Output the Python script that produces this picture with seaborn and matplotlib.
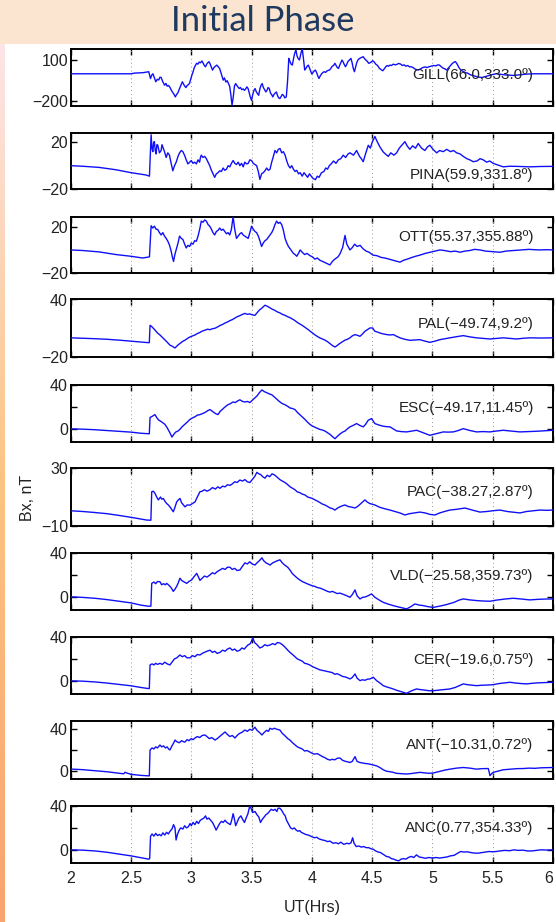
import numpy as np
import pandas as pd
import matplotlib
matplotlib.use("Agg")
import matplotlib.pyplot as plt
import seaborn as sns

# ---------------- data ----------------
STATIONS = ["GILL(66.0,333.0º)", "PINA(59.9,331.8º)", "OTT(55.37,355.88º)",
            "PAL(−49.74,9.2º)", "ESC(−49.17,11.45º)", "PAC(−38.27,2.87º)",
            "VLD(−25.58,359.73º)", "CER(−19.6,0.75º)", "ANT(−10.31,0.72º)",
            "ANC(0.77,354.33º)"]

GILL_t = [2.0, 2.3, 2.5, 2.53, 2.56, 2.6, 2.647, 2.662, 2.672, 2.682, 2.694, 2.706, 2.718, 2.73, 2.74,
          2.75, 2.765, 2.779, 2.79, 2.8, 2.812, 2.824, 2.835, 2.846, 2.857, 2.868, 2.878, 2.888, 2.897,
          2.906, 2.916, 2.926, 2.936, 2.946, 2.956, 2.966, 2.975, 2.985, 2.995, 3.005, 3.015, 3.025,
          3.034, 3.044, 3.055, 3.066, 3.077, 3.088, 3.1, 3.108, 3.118, 3.128, 3.137, 3.147, 3.157,
          3.166, 3.176, 3.188, 3.2, 3.212, 3.224, 3.235, 3.245, 3.255, 3.265, 3.275, 3.287, 3.298,
          3.309, 3.318, 3.328, 3.338, 3.348, 3.358, 3.368, 3.378, 3.387, 3.397, 3.408, 3.419, 3.43,
          3.441, 3.451, 3.461, 3.471, 3.481, 3.49, 3.5, 3.51, 3.52, 3.529, 3.539, 3.549, 3.559, 3.569,
          3.578, 3.588, 3.598, 3.608, 3.618, 3.628, 3.637, 3.647, 3.657, 3.666, 3.676, 3.686, 3.696,
          3.706, 3.716, 3.725, 3.735, 3.745, 3.755, 3.765, 3.775, 3.788, 3.798, 3.809, 3.818, 3.828,
          3.838, 3.848, 3.858, 3.868, 3.877, 3.887, 3.897, 3.907, 3.914, 3.921, 3.931, 3.941, 3.951,
          3.961, 3.971, 3.981, 3.99, 4.0, 4.01, 4.019, 4.029, 4.039, 4.049, 4.059, 4.07, 4.081, 4.092,
          4.103, 4.114, 4.125, 4.136, 4.147, 4.158, 4.169, 4.18, 4.191, 4.201, 4.211, 4.221, 4.23,
          4.24, 4.25, 4.26, 4.27, 4.279, 4.29, 4.3, 4.312, 4.324, 4.334, 4.343, 4.353, 4.363, 4.372,
          4.382, 4.393, 4.404, 4.415, 4.426, 4.437, 4.448, 4.46, 4.471, 4.482, 4.493, 4.504, 4.515,
          4.53, 4.545, 4.56, 4.574, 4.588, 4.6, 4.612, 4.624, 4.636, 4.647, 4.66, 4.675, 4.69, 4.705,
          4.72, 4.735, 4.75, 4.765, 4.78, 4.795, 4.81, 4.824, 4.84, 4.855, 4.868, 4.882, 4.9, 4.92,
          4.94, 4.955, 4.971, 4.99, 5.01, 5.03, 5.045, 5.059, 5.075, 5.09, 5.105, 5.118, 5.135, 5.15,
          5.165, 5.18, 5.191, 5.205, 5.22, 5.235, 5.25, 5.27, 5.29, 5.31, 5.324, 5.345, 5.37, 5.39,
          5.412, 5.44, 5.47, 5.5, 5.529, 5.56, 5.6, 5.64, 5.676, 5.72, 5.76, 5.8, 5.824, 5.9, 6.0]
GILL_v = [0, 0, 0, 5, 6, 8, 15, -34, -10, 0, -30, -58, -40, -45, -25,
          -27, -60, -83, -70, -90, -85, -100, -120, -135, -150, -168, -150, -140, -120,
          -100, -80, -58, -75, -90, -100, -85, -80, -70, -40, -10, 15, 45,
          60, 76, 70, 85, 80, 93, 75, 60, 51, 70, 80, 88, 70,
          50, 27, 45, 55, 63, 50, 39, 10, -20, -46, -30, -60, -50,
          -71, -90, -150, -229, -170, -90, -71, -85, -95, -107, -100, -115, -110,
          -120, -110, -95, -107, -140, -170, -193, -150, -120, -107, -130, -145, -156, -110,
          -85, -71, -100, -115, -132, -120, -100, -107, -140, -150, -168, -150, -140,
          -132, -160, -175, -180, -165, -150, -156, -175, -168, -60, 112, 90, 70,
          63, 110, 150, 173, 130, 110, 100, 140, 165, 180, 100, 27, 40,
          55, 63, 40, 20, -2, 10, 20, 27, 10, -15, -34, -15, 0, 10,
          15, 10, 20, 25, 27, 40, 55, 60, 76, 60, 45, 39, 60,
          80, 100, 85, 65, 51, 70, 90, 100, 112, 80, 40, 15, 50, 80,
          100, 110, 115, 120, 124, 110, 100, 90, 76, 80, 85, 95, 88,
          70, 60, 40, 30, 22, 35, 50, 60, 55, 63, 60, 70, 65, 68,
          75, 71, 60, 65, 55, 60, 50, 51, 45, 35, 30, 27, 35, 45,
          50, 45, 51, 55, 60, 58, 65, 63, 50, 40, 35, 27, 45, 60,
          75, 85, 88, 70, 45, 27, 20, 10, 5, -5, -10, -15, -22, -25,
          -27, -20, -12, -5, 0, -3, -8, -10, -12, -8, -4, -2, 0, 0, 0]

PINA_t = [2.0, 2.1, 2.236, 2.375, 2.5, 2.625, 2.653, 2.667, 2.674, 2.681, 2.688, 2.694, 2.701, 2.708,
          2.715, 2.722, 2.736, 2.75, 2.757, 2.764, 2.778, 2.792, 2.805, 2.819, 2.833, 2.847, 2.861,
          2.875, 2.89, 2.903, 2.917, 2.93, 2.944, 2.958, 2.972, 2.986, 3.0, 3.014, 3.028, 3.042, 3.056,
          3.069, 3.076, 3.083, 3.097, 3.111, 3.125, 3.139, 3.153, 3.167, 3.18, 3.194, 3.208, 3.222,
          3.236, 3.25, 3.264, 3.278, 3.292, 3.306, 3.32, 3.333, 3.347, 3.361, 3.375, 3.389, 3.403,
          3.417, 3.431, 3.444, 3.458, 3.472, 3.486, 3.5, 3.514, 3.528, 3.542, 3.556, 3.569, 3.583,
          3.597, 3.611, 3.625, 3.639, 3.653, 3.667, 3.681, 3.694, 3.708, 3.722, 3.736, 3.75, 3.764,
          3.778, 3.792, 3.806, 3.82, 3.833, 3.847, 3.861, 3.875, 3.889, 3.903, 3.92, 3.935, 3.95,
          3.965, 3.98, 3.995, 4.01, 4.03, 4.045, 4.06, 4.08, 4.1, 4.115, 4.13, 4.145, 4.16, 4.18, 4.2,
          4.22, 4.24, 4.26, 4.28, 4.3, 4.316, 4.345, 4.371, 4.395, 4.41, 4.426, 4.445, 4.468, 4.485,
          4.5, 4.523, 4.54, 4.565, 4.59, 4.61, 4.634, 4.655, 4.68, 4.703, 4.725, 4.75, 4.772, 4.79,
          4.813, 4.835, 4.86, 4.882, 4.91, 4.938, 4.958, 4.979, 5.005, 5.035, 5.06, 5.09, 5.118, 5.15,
          5.175, 5.201, 5.23, 5.255, 5.285, 5.31, 5.338, 5.37, 5.395, 5.421, 5.45, 5.475, 5.504, 5.53,
          5.56, 5.587, 5.64, 5.698, 5.75, 5.808, 5.9, 6.0]
PINA_v = [0, -0.5, -1.5, -3.5, -6, -8, -9, 26.5, 15, 12, 20, 20.6, 13, 10,
          18, 17.6, 11, 13, 18, 16, 12, 7, 11, 9, 2, -4.4, 0,
          3, 8, 11, 13, 12, 9, 5, 1.5, 3, 4.4, 2, 3, 1.5, 5,
          3, 7, 9, 7, 8, 6, 3, 0, -4, -7, -10, -7, -6,
          -4.4, -5, -2, -4, -3, 0, -1, 2, 4.4, 2, 1, 3, 0,
          2, -1, 3, 1.5, 2, 5, 4.4, 2, 1, 0, -5, -11.8, -7,
          -6, -4.4, -2, -4, -3, 3, 8, 13, 11, 14, 14.7, 11, 12,
          9, 4, 0, -2, 0, -3, -5, -4, -7, -6, -9, -6, -8,
          -10, -7, -9, -11, -12, -9, -10, -6, -5, -2, -3, 0, 1.5, 4, 2,
          5, 6, 9, 7, 10, 11, 9, 13, 8, 6, 3.4, 10, 17.5, 15,
          20, 25, 21, 16, 12, 10, 8, 11, 9, 11, 15, 18, 20.6, 17,
          14, 17, 15, 19, 15, 13, 16, 17.5, 14, 11, 13, 12, 14, 12,
          13, 11, 10, 8, 6, 5, 3.4, 4, 6, 5, 3, 4, 2, 1,
          0, -1, -0.5, -0.6, -0.8, -1, -0.7, -0.6]

OTT_t = [2.0, 2.1, 2.236, 2.375, 2.5, 2.597, 2.653, 2.667, 2.68, 2.694, 2.708, 2.722, 2.736, 2.75, 2.764,
         2.778, 2.792, 2.806, 2.82, 2.833, 2.843, 2.853, 2.864, 2.875, 2.89, 2.903, 2.917, 2.931, 2.945,
         2.958, 2.972, 2.986, 3.0, 3.014, 3.028, 3.042, 3.056, 3.07, 3.083, 3.097, 3.111, 3.125, 3.139,
         3.153, 3.167, 3.18, 3.194, 3.208, 3.222, 3.236, 3.25, 3.264, 3.278, 3.292, 3.305, 3.319, 3.333,
         3.347, 3.36, 3.375, 3.389, 3.403, 3.417, 3.43, 3.444, 3.458, 3.472, 3.486, 3.5, 3.514, 3.528,
         3.542, 3.556, 3.569, 3.583, 3.597, 3.611, 3.625, 3.639, 3.653, 3.667, 3.681, 3.694, 3.708,
         3.722, 3.736, 3.75, 3.764, 3.778, 3.792, 3.806, 3.82, 3.833, 3.847, 3.861, 3.875, 3.889, 3.903,
         3.92, 3.94, 3.96, 3.985, 4.005, 4.025, 4.045, 4.067, 4.09, 4.11, 4.13, 4.15, 4.17, 4.19, 4.217,
         4.235, 4.255, 4.275, 4.29, 4.316, 4.335, 4.355, 4.375, 4.4, 4.425, 4.45, 4.475, 4.507, 4.54,
         4.575, 4.606, 4.64, 4.675, 4.705, 4.731, 4.76, 4.79, 4.83, 4.86, 4.896, 4.94, 4.98, 5.02, 5.062,
         5.1, 5.15, 5.19, 5.228, 5.27, 5.31, 5.35, 5.394, 5.44, 5.5, 5.56, 5.61, 5.67, 5.726, 5.8, 5.88,
         5.95, 6.0]
OTT_v = [0, -0.5, -1.7, -4, -5.5, -7, -6, 21, 19, 20.6, 18, 17.7, 15, 13, 15,
         12, 10, 7.5, 4, -1, -6, -10, -4, 0.3, 6, 12, 10, 9, 5,
         1.7, 4, 3, 6, 5, 8, 7.5, 12, 18, 25, 24, 26, 25, 22,
         20.6, 18, 15, 13, 16, 17, 19, 17, 18, 16, 14, 15, 13, 18,
         29, 18, 10, 12, 14, 15, 13, 12, 11, 10, 15, 20.6, 18, 16,
         15, 12, 8, 3, 6, 8, 9, 11, 13, 15, 18, 22, 25,
         23, 24, 22, 17, 10, 6, 3, 1, -1, -3, -4, -5.5, -3, 0,
         -2, -4, -3, -5, -6, -8, -7, -9, -10, -11, -12, -13, -10, -8, -6,
         -3, 2, 12.6, 5, 0, 2, 5, 3, 4, 1, -1, -2, -4.5, -5,
         -6.5, -7, -8, -9, -10, -10.6, -9, -8, -6.5, -5.5, -4.5, -3, -2, -1, 0,
         -0.5, -1.5, -1, -2, -1, -0.5, 0.5, 0, -1, -1.5, -2, -1, -0.5, 0, 0.5, 0,
         0.2, 0]

PAL_t = [2.0, 2.1, 2.2, 2.3, 2.4, 2.5, 2.58, 2.64, 2.652, 2.658, 2.67, 2.685, 2.7, 2.72, 2.74, 2.76,
         2.78, 2.8, 2.822, 2.845, 2.865, 2.885, 2.905, 2.925, 2.948, 2.97, 2.99, 3.01, 3.031, 3.05,
         3.07, 3.09, 3.114, 3.135, 3.155, 3.175, 3.197, 3.22, 3.24, 3.26, 3.28, 3.3, 3.321, 3.34,
         3.36, 3.38, 3.4, 3.425, 3.445, 3.465, 3.485, 3.505, 3.528, 3.545, 3.565, 3.585, 3.611, 3.63,
         3.65, 3.67, 3.694, 3.715, 3.735, 3.755, 3.777, 3.8, 3.82, 3.84, 3.86, 3.88, 3.9, 3.92, 3.943,
         3.965, 3.985, 4.005, 4.026, 4.045, 4.065, 4.085, 4.109, 4.13, 4.15, 4.17, 4.192, 4.21, 4.23,
         4.255, 4.275, 4.295, 4.316, 4.335, 4.358, 4.38, 4.399, 4.42, 4.44, 4.46, 4.482, 4.504, 4.523,
         4.545, 4.565, 4.595, 4.62, 4.65, 4.675, 4.705, 4.731, 4.77, 4.813, 4.855, 4.896, 4.94, 4.979,
         5.02, 5.062, 5.1, 5.145, 5.2, 5.256, 5.31, 5.366, 5.42, 5.477, 5.53, 5.587, 5.64, 5.698,
         5.75, 5.808, 5.9, 6.0]
PAL_v = [0, -0.4, -0.9, -1.5, -2.4, -3.5, -4.4, -5, -5, 13, 12, 10, 8, 5, 3, 0.5,
         -2, -4.5, -7.5, -9, -10.6, -8, -6, -4, -2.4, -0.5, 1, 2, 3, 4.5,
         5.5, 7, 8, 9, 8.5, 9.5, 10, 11.5, 13, 14, 15.5, 16.5, 18, 19,
         20.5, 22, 23, 24.5, 25.5, 24.5, 25, 24, 23.5, 26, 29, 31, 34, 33,
         31.5, 30, 28.6, 27, 26, 24.5, 23.5, 22, 21, 19.5, 18, 16, 14.5, 13, 11,
         9, 7, 5, 3, 1.5, 0, -1, -2.4, -4, -6, -8, -9.6, -8, -6,
         -4, -2.4, -1.5, 0, 2, 3.4, 2.5, 1.6, 4, 6.8, 8.5, 10.3, 10.3, 6.8,
         6, 5, 4, 3.4, 3, 3.4, 1.5, 0, -1.5, -2.6, -2.2, -1.9, -3.5, -4.7,
         -3.5, -1.9, -1, 0, 1.2, 2.3, 1, 0, -0.6, -1.2, -0.6, 0, -0.6, -1.2,
         -0.5, 0, -0.2, 0]

ESC_t = [2.0, 2.1, 2.2, 2.3, 2.4, 2.5, 2.58, 2.64, 2.652, 2.658, 2.67, 2.685, 2.699, 2.715, 2.73, 2.745,
         2.765, 2.782, 2.8, 2.82, 2.84, 2.855, 2.87, 2.89, 2.906, 2.925, 2.945, 2.965, 2.989, 3.01,
         3.03, 3.05, 3.072, 3.095, 3.115, 3.135, 3.155, 3.175, 3.2, 3.221, 3.24, 3.26, 3.28, 3.304,
         3.325, 3.345, 3.365, 3.385, 3.403, 3.425, 3.445, 3.465, 3.486, 3.505, 3.525, 3.545, 3.565,
         3.586, 3.605, 3.625, 3.645, 3.669, 3.69, 3.71, 3.73, 3.755, 3.777, 3.8, 3.82, 3.84, 3.86,
         3.88, 3.9, 3.92, 3.943, 3.965, 3.985, 4.005, 4.026, 4.045, 4.065, 4.085, 4.109, 4.13, 4.15,
         4.17, 4.192, 4.21, 4.23, 4.255, 4.275, 4.295, 4.316, 4.34, 4.371, 4.4, 4.426, 4.445, 4.468,
         4.495, 4.51, 4.523, 4.555, 4.592, 4.62, 4.648, 4.675, 4.703, 4.74, 4.786, 4.83, 4.869, 4.91,
         4.945, 4.979, 5.03, 5.09, 5.13, 5.173, 5.215, 5.256, 5.31, 5.366, 5.42, 5.477, 5.53, 5.587,
         5.65, 5.725, 5.8, 5.864, 5.93, 6.0]
ESC_v = [0, -0.3, -0.8, -1.5, -2.2, -3, -4, -4.5, -4.5, 10.4, 11, 12, 13, 10, 8, 7,
         5.5, 4, 1, -3, -7.5, -5, -3, -2, -0.4, 2, 4, 6, 8.6, 10,
         11, 12.5, 13, 14, 15, 16.5, 17.6, 16, 14, 13, 16, 18, 20, 22,
         23, 24.5, 24, 25.5, 26.5, 25, 24.5, 25, 24, 26, 28, 30, 33,
         35.5, 34, 33, 32, 31, 29, 27, 25, 23, 22, 20.5, 19, 18.5, 17.6,
         15, 13, 11, 8.6, 6, 4, 2.5, 1.4, 0.5, -0.5, -1, -2, -3.5, -5,
         -7, -9, -7, -5, -3, -2, 0, 1.8, 3, 4.8, 3, 1.8, 4, 7.9,
         9.4, 7, 4.8, 3.5, 2.4, 2, 1.8, 0, -1.9, -2.5, -2.8, -2, -1.3, -3,
         -4.5, -5.9, -4.5, -2.8, -3, -2.8, -1.5, 0.2, -1.5, -2.8, -2.5, -2.8, -2, -1.3,
         -2, -2.8, -2.5, -2.2, -1.8, -1.3]

PAC_t = [2.0, 2.1, 2.2, 2.3, 2.4, 2.5, 2.58, 2.63, 2.665, 2.672, 2.685, 2.699, 2.713, 2.727, 2.745,
         2.755, 2.768, 2.782, 2.796, 2.81, 2.823, 2.837, 2.851, 2.865, 2.879, 2.893, 2.906, 2.92,
         2.935, 2.948, 2.965, 2.989, 3.01, 3.031, 3.05, 3.072, 3.09, 3.11, 3.13, 3.155, 3.175, 3.2,
         3.22, 3.238, 3.26, 3.28, 3.3, 3.321, 3.34, 3.36, 3.38, 3.403, 3.425, 3.445, 3.465, 3.486,
         3.505, 3.525, 3.544, 3.56, 3.575, 3.593, 3.611, 3.63, 3.65, 3.67, 3.694, 3.715, 3.735,
         3.755, 3.777, 3.8, 3.82, 3.84, 3.86, 3.88, 3.9, 3.92, 3.943, 3.965, 3.985, 4.005, 4.026,
         4.05, 4.07, 4.09, 4.109, 4.13, 4.15, 4.17, 4.192, 4.215, 4.24, 4.255, 4.275, 4.3, 4.33,
         4.358, 4.38, 4.4, 4.42, 4.44, 4.46, 4.48, 4.5, 4.523, 4.56, 4.6, 4.648, 4.69, 4.73, 4.772,
         4.81, 4.85, 4.896, 4.94, 4.98, 5.02, 5.06, 5.1, 5.145, 5.2, 5.27, 5.33, 5.394, 5.45, 5.5,
         5.56, 5.62, 5.67, 5.726, 5.78, 5.84, 5.892, 5.95, 6.0]
PAC_v = [0.5, 0, -0.7, -1.5, -2.7, -4, -5.2, -5.9, -6, 13.6, 14, 12.5, 10, 8, 10,
         8.5, 9, 7, 5.5, 4.5, 3.2, 1.5, -0.2, 3, 6.6, 8, 9, 6,
         4.5, 3.2, 4.5, 4.4, 5.5, 6.6, 10, 13.6, 14, 15, 14, 15, 16.5, 15.5,
         17, 16, 17.5, 17, 18.5, 18, 19, 20.5, 20, 21.7, 21, 22, 20.5, 20,
         22, 24, 27, 26, 25.5, 24, 23, 25, 24, 26, 25, 23.5, 22,
         21, 20, 18.5, 17, 16, 15, 13.5, 13, 12, 11.4, 10, 9.5, 9, 8,
         7, 6, 5, 4.5, 3.5, 2.5, 2, 1, 2.5, 3.5, 4, 4.5, 3.5, 3,
         2.4, 3.5, 5, 6.5, 8, 6.5, 5.5, 5, 4.5, 3, 2, 1, 0, -1, -2.4,
         -1.5, -1, -0.4, -1, -2, -2.4, -1, 0, 1, 1.5, 2.4, 1, -0.4, 0, 0.5,
         1, 0, -0.5, -1, 0, 0.5, 1, 0.8, 1]

VLD_t = [2.0, 2.1, 2.2, 2.3, 2.4, 2.5, 2.58, 2.64, 2.665, 2.672, 2.69, 2.705, 2.72, 2.74, 2.754, 2.77,
         2.785, 2.796, 2.81, 2.823, 2.835, 2.851, 2.865, 2.879, 2.893, 2.906, 2.92, 2.934, 2.95,
         2.962, 2.98, 3.003, 3.02, 3.035, 3.045, 3.06, 3.072, 3.09, 3.11, 3.13, 3.155, 3.175, 3.195,
         3.215, 3.238, 3.26, 3.28, 3.3, 3.321, 3.34, 3.36, 3.38, 3.403, 3.425, 3.445, 3.465, 3.485,
         3.505, 3.528, 3.545, 3.565, 3.586, 3.6, 3.62, 3.638, 3.653, 3.675, 3.695, 3.715, 3.735,
         3.755, 3.775, 3.8, 3.818, 3.84, 3.86, 3.88, 3.9, 3.92, 3.94, 3.96, 3.983, 4.005, 4.025,
         4.045, 4.067, 4.09, 4.11, 4.13, 4.15, 4.17, 4.19, 4.21, 4.233, 4.255, 4.28, 4.3, 4.316,
         4.335, 4.358, 4.375, 4.399, 4.42, 4.445, 4.468, 4.495, 4.523, 4.56, 4.592, 4.63, 4.675,
         4.71, 4.75, 4.786, 4.82, 4.855, 4.89, 4.924, 4.965, 5.007, 5.06, 5.118, 5.18, 5.22, 5.256,
         5.31, 5.366, 5.42, 5.477, 5.53, 5.6, 5.67, 5.74, 5.808, 5.87, 5.94, 6.0]
VLD_v = [0, -0.5, -1.3, -2.5, -4, -5.5, -7.5, -8.5, -8.5, 12.3, 13.5, 12, 14, 13.8, 11, 12,
         11, 12.3, 11, 9.6, 8, 5, 7, 9.6, 13, 17, 15, 14, 13,
         12.3, 14, 15.4, 18, 20, 21.4, 18, 15, 17, 19, 18, 20, 22, 21,
         23, 24.5, 26, 25, 27, 27, 25, 26, 24, 24.5, 28, 31, 30, 32,
         30, 29, 31, 33, 35.6, 33, 31, 30, 29, 31, 32, 33, 33.8,
         31, 29, 27, 24.5, 21, 19, 17, 15.4, 14, 13, 12, 11, 10, 9.5,
         8.5, 8, 7, 6, 5, 4.3, 5, 4, 3, 3.4, 2.5, 1.5, 0.5, -0.4,
         2, 6.3, 1, -1.9, -0.5, 0, 1.1, 2.7, -0.4, -3, -5, -6.5, -8,
         -9, -10, -11, -9, -6.5, -7.5, -8, -9, -9.6, -8.5, -7, -5, -3, -1.9,
         -2.8, -3.4, -3.8, -4, -3, -2, -1.3, -2, -2.8, -2.3, -2, -1.9]

CER_t = [2.0, 2.1, 2.2, 2.3, 2.4, 2.5, 2.58, 2.64, 2.652, 2.658, 2.675, 2.69, 2.705, 2.72, 2.74, 2.76,
         2.78, 2.8, 2.823, 2.84, 2.86, 2.88, 2.906, 2.925, 2.945, 2.965, 2.989, 3.01, 3.03, 3.05,
         3.072, 3.09, 3.11, 3.13, 3.155, 3.175, 3.195, 3.215, 3.238, 3.26, 3.28, 3.3, 3.321, 3.34,
         3.36, 3.38, 3.403, 3.42, 3.44, 3.455, 3.47, 3.49, 3.511, 3.525, 3.545, 3.569, 3.59, 3.61,
         3.63, 3.653, 3.675, 3.695, 3.715, 3.735, 3.755, 3.775, 3.8, 3.818, 3.84, 3.86, 3.88, 3.9,
         3.92, 3.94, 3.96, 3.983, 4.005, 4.025, 4.045, 4.067, 4.09, 4.11, 4.13, 4.15, 4.17, 4.19,
         4.21, 4.233, 4.255, 4.28, 4.3, 4.316, 4.335, 4.358, 4.375, 4.399, 4.42, 4.44, 4.46, 4.482,
         4.509, 4.537, 4.565, 4.592, 4.62, 4.65, 4.675, 4.7, 4.73, 4.76, 4.786, 4.81, 4.84, 4.869,
         4.9, 4.94, 4.97, 5.007, 5.05, 5.1, 5.145, 5.19, 5.23, 5.256, 5.29, 5.33, 5.366, 5.41, 5.46,
         5.504, 5.55, 5.6, 5.643, 5.69, 5.74, 5.781, 5.83, 5.88, 5.94, 6.0]
CER_v = [0, -0.3, -1, -2, -3.2, -4.5, -6, -7, -7, 14.5, 15.5, 14.5, 16, 15, 16, 15,
         17, 15.5, 14.5, 17, 20, 21, 23.6, 22, 23, 21, 21, 23, 22, 24,
         23.6, 25, 26, 27, 28, 26, 27, 25, 26, 28, 27, 29, 30, 28,
         29, 27, 28, 30, 29, 31, 32.7, 34, 39, 35, 33, 30, 31, 33,
         32, 32.7, 34, 33, 35, 34.5, 33, 31, 28, 26, 24, 22, 20, 19,
         18, 16, 15.5, 14.5, 13, 12, 11, 10, 9.5, 9, 8.5, 8, 7.5, 6,
         6.5, 5.3, 4, 3.5, 2.5, 1.75, 3, 6.3, 2.5, 0.2, 1, 0.5, 1.5, 1.75,
         3.3, 0.2, -2, -4.4, -5.5, -6.5, -7.4, -8.5, -9.5, -10.5, -11.4, -10, -8.5, -7.4,
         -8, -8.5, -9, -9, -8.5, -8, -7.4, -6, -4, -2.8, -3.5, -4, -4.4, -4, -3.8,
         -3.5, -2.5, -1.8, -1.3, -2, -2.5, -2.8, -2.2, -1.8, -1.5, -1.3]

ANT_t = [2.0, 2.1, 2.2, 2.3, 2.4, 2.44, 2.45, 2.46, 2.5, 2.58, 2.64, 2.652, 2.658, 2.675, 2.69, 2.705,
         2.72, 2.74, 2.755, 2.77, 2.785, 2.8, 2.812, 2.823, 2.84, 2.855, 2.865, 2.88, 2.9, 2.92,
         2.935, 2.948, 2.965, 2.98, 3.0, 3.015, 3.031, 3.05, 3.07, 3.09, 3.114, 3.13, 3.15, 3.17,
         3.197, 3.215, 3.235, 3.255, 3.28, 3.3, 3.32, 3.34, 3.362, 3.38, 3.4, 3.42, 3.445, 3.465,
         3.485, 3.505, 3.528, 3.545, 3.565, 3.586, 3.605, 3.625, 3.64, 3.653, 3.67, 3.69, 3.71,
         3.735, 3.755, 3.775, 3.8, 3.818, 3.84, 3.86, 3.88, 3.9, 3.92, 3.94, 3.96, 3.983, 4.0, 4.02,
         4.045, 4.067, 4.09, 4.11, 4.13, 4.15, 4.17, 4.19, 4.21, 4.233, 4.255, 4.28, 4.3, 4.316,
         4.335, 4.358, 4.375, 4.399, 4.42, 4.44, 4.46, 4.482, 4.51, 4.537, 4.565, 4.592, 4.62, 4.65,
         4.675, 4.7, 4.73, 4.76, 4.786, 4.82, 4.86, 4.896, 4.93, 4.97, 5.007, 5.05, 5.1, 5.145, 5.2,
         5.256, 5.31, 5.366, 5.41, 5.463, 5.47, 5.477, 5.49, 5.504, 5.54, 5.587, 5.65, 5.7, 5.753,
         5.8, 5.85, 5.9, 5.95, 6.0]
ANT_v = [1.6, 1, 0, -1, -2.5, -3, -1.5, -2, -3.5, -4.5, -5, -5, 20, 22, 21, 23,
         22, 24.8, 23, 24, 22, 23, 21, 20, 24, 27, 29.6, 28, 27, 29,
         28, 27.7, 30, 29, 31, 30, 31.6, 33, 32, 34, 34.5, 33, 31, 32,
         29.6, 31, 33, 35, 37.4, 35, 33, 34, 31.6, 34, 36, 37, 39.3, 38,
         40, 39, 42, 39, 37, 34.5, 37, 39, 38, 41, 40, 41, 40,
         39.3, 36, 34, 31, 29.6, 27, 25, 23, 22, 21, 19, 19.5, 18, 17, 16,
         16.5, 15, 13.5, 12.5, 11, 10.3, 11, 10.5, 12, 12.3, 10, 9, 8.5, 7.9,
         9, 13.6, 9, 7.9, 7.5, 7, 6.8, 6.3, 5.5, 4.7, 3, 0.9, -0.5, -1,
         -1.6, -2.5, -2.8, -3, -3.2, -2.8, -2.2, -1.6, -2, -2.5, -2.2, -1, 0.5, 1.5, 2.5,
         3.1, 2.5, 1.5, 2, 2.1, -1, -4.8, -3, -1.6, -0.5, 0.9, 1.5, 2, 2.1,
         2.5, 2.3, 2.8, 3, 3.1]

ANC_t = [2.0, 2.1, 2.2, 2.3, 2.4, 2.5, 2.6, 2.647, 2.655, 2.662, 2.675, 2.69, 2.705, 2.72, 2.735, 2.75,
         2.765, 2.78, 2.795, 2.81, 2.824, 2.84, 2.853, 2.865, 2.874, 2.885, 2.9, 2.912, 2.93, 2.945,
         2.96, 2.975, 2.99, 3.0, 3.015, 3.03, 3.045, 3.059, 3.075, 3.09, 3.105, 3.118, 3.13, 3.145,
         3.16, 3.176, 3.19, 3.206, 3.22, 3.235, 3.25, 3.265, 3.28, 3.295, 3.31, 3.324, 3.335, 3.347,
         3.358, 3.368, 3.38, 3.395, 3.412, 3.425, 3.441, 3.455, 3.47, 3.485, 3.495, 3.51, 3.529,
         3.545, 3.56, 3.574, 3.59, 3.605, 3.618, 3.632, 3.648, 3.662, 3.68, 3.695, 3.71, 3.72, 3.735,
         3.75, 3.765, 3.779, 3.79, 3.805, 3.824, 3.84, 3.855, 3.87, 3.885, 3.9, 3.912, 3.93, 3.95,
         3.97, 4.0, 4.02, 4.04, 4.06, 4.088, 4.11, 4.13, 4.15, 4.176, 4.2, 4.22, 4.24, 4.265, 4.29,
         4.31, 4.325, 4.338, 4.35, 4.368, 4.39, 4.41, 4.43, 4.45, 4.471, 4.49, 4.51, 4.529, 4.55,
         4.57, 4.59, 4.618, 4.64, 4.66, 4.68, 4.7, 4.721, 4.74, 4.76, 4.78, 4.8, 4.824, 4.845, 4.868,
         4.89, 4.915, 4.941, 4.97, 5.0, 5.03, 5.06, 5.088, 5.12, 5.15, 5.18, 5.21, 5.235, 5.26, 5.29,
         5.32, 5.35, 5.382, 5.41, 5.44, 5.47, 5.5, 5.529, 5.56, 5.6, 5.64, 5.676, 5.71, 5.75, 5.79,
         5.824, 5.86, 5.9, 5.95, 6.0]
ANC_v = [0, -0.3, -1, -2.2, -3.8, -5.5, -7.5, -8.5, -8, 12.3, 14.5, 12.5, 15, 13, 14, 12.8,
         15.5, 13.5, 16, 14.5, 17, 19, 23, 20, 9, 14, 18, 20, 19, 22,
         20, 21, 24, 22, 25, 23, 26, 24, 27, 28, 29, 31, 28, 29,
         27, 25, 22, 18, 21, 24, 26, 25, 27, 25, 24, 23, 27, 33,
         28, 22, 25, 29, 31, 28, 25, 29, 33, 40, 38, 34, 35,
         32, 30, 25, 28, 30, 32, 33, 35, 37, 36, 37, 35, 38, 38,
         36, 33, 31, 27, 24, 20, 19, 20, 18, 17, 17.5, 16, 15, 14,
         13.5, 12, 11, 11.5, 10, 9, 8.5, 7.5, 8, 6, 6.5, 5.5, 7, 5, 6,
         5.5, 6.5, 11, 6, 3, 3.5, 2.5, 3, 2, 2, 1, 0.5, -1, -2,
         -2.5, -4, -6, -6.5, -8, -8.5, -9.5, -10, -8.5, -8, -8.5, -7, -6, -7, -4.6,
         -6.5, -7, -7.7, -7, -7.5, -7, -7.5, -7, -6.5, -5.5, -5, -3, -1.5, -2, -1.8,
         -2.5, -3, -3, -2.5, -2, -1.5, -1.8, -1.5, -1, -0.5, -0.8, 0, -0.5, -0.3, -1,
         -1, -0.5, 0, -0.2, 0]

YLIMS = [(-234, 180), (-20, 28), (-20, 29), (-20, 40), (-12, 40),
         (-10, 30), (-12, 40), (-12, 40), (-8, 48), (-12, 40)]
YTICKS = [[-200, 100], [-20, 20], [-20, 20], [-20, 40], [0, 20, 40],
          [-10, 30], [0, 20, 40], [0, 20, 40], [0, 20, 40], [0, 20, 40]]
YTICKLABELS = [["−200", "100"], ["−20", "20"], ["−20", "20"], ["−20", "40"], ["0", "", "40"],
               ["−10", "30"], ["0", "", "40"], ["0", "", "40"], ["0", "", "40"], ["0", "", "40"]]
XTICKS = [2, 2.5, 3, 3.5, 4, 4.5, 5, 5.5, 6]
XTICKLABELS = ["2", "2.5", "3", "3.5", "4", "4.5", "5", "5.5", "6"]

SERIES = [(GILL_t, GILL_v), (PINA_t, PINA_v), (OTT_t, OTT_v), (PAL_t, PAL_v), (ESC_t, ESC_v),
          (PAC_t, PAC_v), (VLD_t, VLD_v), (CER_t, CER_v), (ANT_t, ANT_v), (ANC_t, ANC_v)]

# ---------------- styling / layout ----------------
sns.set_theme(style="white")
FONT = ["Liberation Sans", "DejaVu Sans"]
plt.rcParams["font.family"] = FONT
plt.rcParams["axes.unicode_minus"] = True

W, H = 556, 922
fig = plt.figure(figsize=(W / 100, H / 100), dpi=100)
fig.patch.set_facecolor("white")

# slide background: peach band at top, gradient strip at the left
bg = np.ones((H, W, 3))
bg[:45, :, :] = np.array([252, 229, 208]) / 255
stops_y = np.array([45, 480, H])
stops_c = np.array([[252, 229, 232], [252, 196, 130], [249, 163, 110]]) / 255
ys = np.arange(45, H)
for c in range(3):
    col = np.interp(ys, stops_y, stops_c[:, c])
    bg[45:, :5, c] = col[:, None]
bgax = fig.add_axes([0, 0, 1, 1], zorder=0)
bgax.imshow(bg, aspect="auto", interpolation="bilinear")
bgax.axis("off")

fig.text(263 / W, 1 - 21 / H, "Initial Phase", ha="center", va="center",
         fontsize=25, family=["Lato", "DejaVu Sans"], color="#1f3a60")

LEFT, RIGHT = 70.7, 553
ROWS = [(49, 106), (133, 189), (216.5, 273), (299.5, 357), (385, 442),
        (468, 526), (553, 610), (637, 694), (721, 779), (806, 863)]
LABEL_Y = [0.54, 0.25, 0.63, 0.57, 0.6, 0.59, 0.6, 0.6, 0.59, 0.61]
TXT = "#222222"

for i, ((top, bot), (t, v)) in enumerate(zip(ROWS, SERIES)):
    ax = fig.add_axes([LEFT / W, 1 - bot / H, (RIGHT - LEFT) / W, (bot - top) / H], zorder=2)
    ax.set_facecolor("white")
    df = pd.DataFrame({"t": t, "v": v})
    sns.lineplot(data=df, x="t", y="v", ax=ax, color="#1010f8", lw=1.0,
                 estimator=None, sort=False, zorder=3)
    ax.set_xlim(2, 6)
    ax.set_ylim(*YLIMS[i])
    ax.set_xticks(XTICKS)
    ax.set_yticks(YTICKS[i])
    ax.set_yticklabels(YTICKLABELS[i])
    if i == len(ROWS) - 1:
        labs = ax.set_xticklabels(XTICKLABELS)
        labs[-1].set_horizontalalignment("right")
    else:
        ax.set_xticklabels([])
    ax.set_xlabel("")
    ax.set_ylabel("")
    for x in XTICKS[1:-1]:
        ax.axvline(x, color="#999999", lw=0.7, ls=(0, (1, 3)), zorder=1)
    for s in ax.spines.values():
        s.set_color("black")
        s.set_linewidth(1.4)
    ax.tick_params(direction="in", length=4, width=1, color="black",
                   top=True, right=True, left=True, bottom=True,
                   labelsize=11.5, pad=2, labelcolor=TXT)
    ax.tick_params(axis="x", pad=6)
    ax.text(0.96, LABEL_Y[i], STATIONS[i], transform=ax.transAxes, ha="right", va="center",
            fontsize=11, color=TXT, zorder=4)

fig.text(312 / W, 1 - 907 / H, "UT(Hrs)", ha="center", va="center", fontsize=11.5, color=TXT)
fig.text(27 / W, 1 - 498 / H, "Bx, nT", ha="center", va="center", rotation=90,
         fontsize=11.5, color=TXT)

fig.savefig("out.png", dpi=100)
